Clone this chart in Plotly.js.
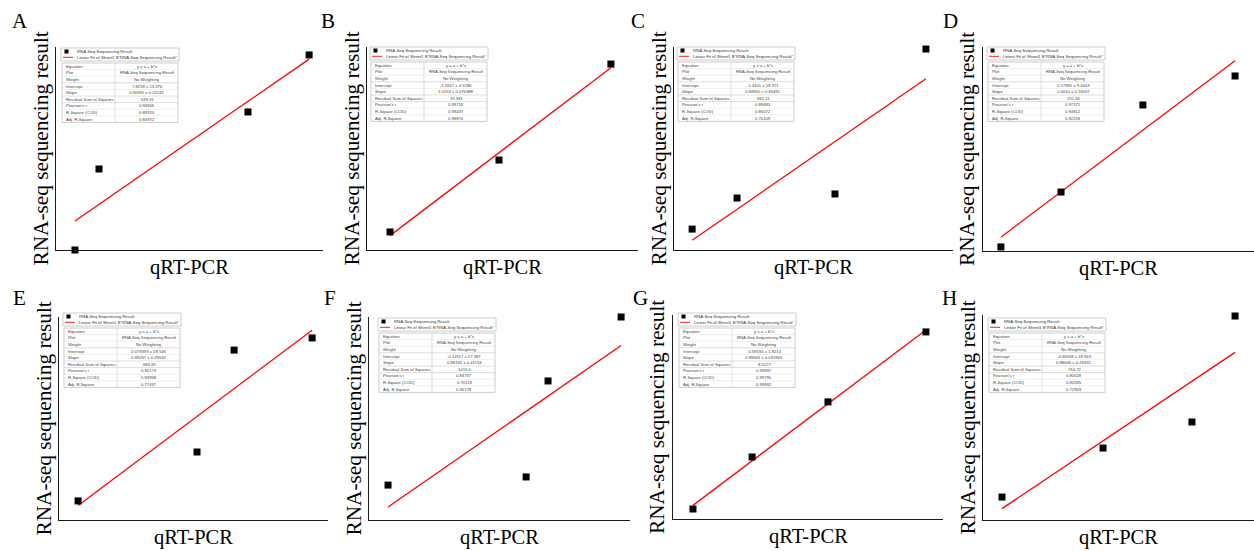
<!DOCTYPE html>
<html>
<head>
<meta charset="utf-8">
<script src="https://cdn.plot.ly/plotly-3.0.1.min.js"></script>
<style>html,body{margin:0;padding:0;background:#fff;}#chart{width:1254px;height:551px;}</style>
</head>
<body>
<div id="chart"></div>
<script>
// ---- data (arbitrary units; axes carry no tick labels) ----
const panelLabels = ['A','B','C','D','E','F','G','H'];
const xTitle = 'qRT-PCR';
const yTitle = 'RNA-seq sequencing result';
const seriesName = 'RNA-Seq Sequencing Result';
const fitName = 'Linear Fit of Sheet1 B"RNA-Seq Sequencing Result"';
const tableRows = ['Equation','Plot','Weight','Intercept','Slope','Residual Sum of Squares',"Pearson's r",'R-Square (COD)','Adj. R-Square'];

const qpcrA = [7.1, 16.1, 71.9, 94.8];   const rnaseqA = [0.0, 39.9, 68.0, 96.1];
const qpcrB = [8.5, 48.7, 90.0];         const rnaseqB = [8.9, 44.3, 91.6];
const qpcrC = [6.5, 22.6, 57.7, 90.3];   const rnaseqC = [10.3, 25.6, 27.6, 99.0];
const qpcrD = [6.6, 28.8, 59.0, 93.0];   const rnaseqD = [2.0, 28.9, 71.6, 85.8];
const qpcrE = [7.1, 51.3, 65.1, 94.1];   const rnaseqE = [9.4, 33.5, 83.7, 89.7];
const qpcrF = [7.3, 60.2, 68.6, 96.6];   const rnaseqF = [17.2, 21.2, 68.5, 100.0];
const qpcrG = [7.4, 29.3, 57.4, 93.7];   const rnaseqG = [4.9, 30.4, 57.4, 91.7];
const qpcrH = [7.0, 44.3, 77.1, 93.0];   const rnaseqH = [11.2, 35.1, 47.8, 99.5];

const qpcr = [qpcrA,qpcrB,qpcrC,qpcrD,qpcrE,qpcrF,qpcrG,qpcrH];
const rnaseq = [rnaseqA,rnaseqB,rnaseqC,rnaseqD,rnaseqE,rnaseqF,rnaseqG,rnaseqH];

// ---- layout geometry (pixels) ----
const W = 1254, H = 551;
const geom = [
  {x0:56,  x1:323,  yt:47,  yb:250, tl:61,  tt:48,  lx:20,  ly:21},
  {x0:367, x1:638,  yt:47,  yb:250, tl:370, tt:47,  lx:328, ly:21},
  {x0:674, x1:953,  yt:47,  yb:250, tl:677, tt:47,  lx:638, ly:21},
  {x0:983, x1:1254, yt:47,  yb:251, tl:987, tt:47,  lx:950, ly:21},
  {x0:59,  x1:328,  yt:317, yb:520, tl:63,  tt:313, lx:19,  ly:298},
  {x0:369, x1:630,  yt:317, yb:520, tl:378, tt:318, lx:330, ly:298},
  {x0:673, x1:943,  yt:315, yb:519, tl:678, tt:313, lx:640, ly:298},
  {x0:983, x1:1254, yt:315, yb:520, tl:988, tt:318, lx:949, ly:298}
];
const px = x => x / W;
const py = y => 1 - y / H;

function linfit(xs, ys) {
  const n = xs.length;
  const mx = xs.reduce((a,b)=>a+b,0)/n, my = ys.reduce((a,b)=>a+b,0)/n;
  let sxx=0, sxy=0, syy=0;
  for (let i=0;i<n;i++){ sxx+=(xs[i]-mx)**2; sxy+=(xs[i]-mx)*(ys[i]-my); syy+=(ys[i]-my)**2; }
  const b = sxy/sxx, a = my - b*mx;
  let rss = 0; for (let i=0;i<n;i++) rss += (ys[i]-a-b*xs[i])**2;
  const r = sxy/Math.sqrt(sxx*syy), r2 = r*r;
  const adj = n>2 ? 1-(1-r2)*(n-1)/(n-2) : NaN;
  const s2 = n>2 ? rss/(n-2) : 0;
  const seb = Math.sqrt(s2/sxx), sea = Math.sqrt(s2*(1/n + mx*mx/sxx));
  return {a,b,rss,r,r2,adj,sea,seb};
}

const traces = [];
const layout = {
  width: W, height: H,
  margin: {l:0, r:0, t:0, b:0},
  paper_bgcolor: '#fff', plot_bgcolor: 'rgba(0,0,0,0)',
  showlegend: false,
  shapes: [], annotations: []
};
const serif = 'Liberation Serif, Times New Roman, serif';
const sans = 'Liberation Sans, Arial, sans-serif';

panelLabels.forEach((lab, i) => {
  const g = geom[i];
  const k = i === 0 ? '' : String(i+1);
  const xs = qpcr[i], ys = rnaseq[i];
  const f = linfit(xs, ys);
  const xmin = Math.min(...xs), xmax = Math.max(...xs);

  traces.push({
    x: [xmin, xmax], y: [f.a + f.b*xmin, f.a + f.b*xmax],
    xaxis: 'x'+k, yaxis: 'y'+k, type: 'scatter', mode: 'lines',
    line: {color: '#ff0000', width: 1.3}, cliponaxis: false, hoverinfo: 'skip'
  });
  traces.push({
    x: xs, y: ys, xaxis: 'x'+k, yaxis: 'y'+k, type: 'scatter', mode: 'markers',
    marker: {symbol: 'square', size: 7, color: '#000'}, cliponaxis: false, name: seriesName
  });

  const axCommon = {showline: true, linecolor: '#1a1a1a', linewidth: 1.3, showticklabels: false,
    ticks: '', showgrid: false, zeroline: false, fixedrange: true};
  layout['xaxis'+k] = Object.assign({}, axCommon, {domain: [px(g.x0), px(g.x1)], range: [0, 100], anchor: 'y'+k});
  layout['yaxis'+k] = Object.assign({}, axCommon, {domain: [py(g.yb), py(g.yt)], range: [0, 100], anchor: 'x'+k});

  // panel letter
  layout.annotations.push({xref:'paper', yref:'paper', x: px(g.lx), y: py(g.ly), text: lab,
    showarrow:false, xanchor:'center', yanchor:'middle', font:{family: serif, size: 21, color:'#000'}});
  // axis titles
  layout.annotations.push({xref:'paper', yref:'paper', x: px(g.x0-16), y: py((g.yt+g.yb)/2), text: yTitle,
    textangle: -90, showarrow:false, xanchor:'center', yanchor:'middle', font:{family: serif, size: 21.3, color:'#000'}});
  layout.annotations.push({xref:'paper', yref:'paper', x: px((g.x0+g.x1)/2), y: py(g.yb+17), text: xTitle,
    showarrow:false, xanchor:'center', yanchor:'middle', font:{family: serif, size: 20.5, color:'#000'}});

  // inset fit table (Origin style)
  const L = g.tl, T = g.tt, TW = 118, LH = 13, RH = 6.6, T2 = T + LH + 2;
  const grey = '#b8b8b8';
  layout.shapes.push({type:'rect', xref:'paper', yref:'paper', x0:px(L), x1:px(L+TW), y0:py(T+LH), y1:py(T),
    line:{color:grey, width:0.7}, fillcolor:'#fff', layer:'below'});
  layout.shapes.push({type:'rect', xref:'paper', yref:'paper', x0:px(L+3.5), x1:px(L+7.5), y0:py(T+5.5), y1:py(T+1.5),
    line:{width:0}, fillcolor:'#000'});
  layout.shapes.push({type:'line', xref:'paper', yref:'paper', x0:px(L+2), x1:px(L+12), y0:py(T+9.3), y1:py(T+9.3),
    line:{color:'#ff0000', width:0.9}});
  layout.annotations.push({xref:'paper', yref:'paper', x:px(L+14), y:py(T+3.6), text: seriesName, showarrow:false,
    xanchor:'left', yanchor:'middle', font:{family: sans, size: 4.3, color:'#333'}});
  layout.annotations.push({xref:'paper', yref:'paper', x:px(L+14), y:py(T+9.3), text: fitName, showarrow:false,
    xanchor:'left', yanchor:'middle', font:{family: sans, size: 4.3, color:'#333'}});

  const tb = T2 + tableRows.length*RH;
  layout.shapes.push({type:'rect', xref:'paper', yref:'paper', x0:px(L+1), x1:px(L+TW-1), y0:py(tb), y1:py(T2),
    line:{color:grey, width:0.7}, fillcolor:'#fff', layer:'below'});
  layout.shapes.push({type:'line', xref:'paper', yref:'paper', x0:px(L+54), x1:px(L+54), y0:py(tb), y1:py(T2),
    line:{color:'#cfcfcf', width:0.6}});
  for (let r=1;r<tableRows.length;r++){
    const yy = T2 + r*RH;
    layout.shapes.push({type:'line', xref:'paper', yref:'paper', x0:px(L+1), x1:px(L+TW-1), y0:py(yy), y1:py(yy),
      line:{color: (r===3||r===5||r===6)?'#bdbdbd':'#dedede', width:0.5}});
  }
  const fmt = v => v.toPrecision(5);
  const vals = ['y = a + b*x', seriesName, 'No Weighting',
    fmt(f.a)+' ± '+fmt(f.sea), fmt(f.b)+' ± '+fmt(f.seb), fmt(f.rss), fmt(f.r), fmt(f.r2),
    isNaN(f.adj) ? '--' : fmt(f.adj)];
  tableRows.forEach((rowName, r) => {
    const yc = T2 + (r+0.5)*RH;
    layout.annotations.push({xref:'paper', yref:'paper', x:px(L+3), y:py(yc), text: rowName, showarrow:false,
      xanchor:'left', yanchor:'middle', font:{family: sans, size: 4.2, color:'#444'}});
    layout.annotations.push({xref:'paper', yref:'paper', x:px(L+86), y:py(yc), text: vals[r], showarrow:false,
      xanchor:'center', yanchor:'middle', font:{family: sans, size: 4.2, color:'#444'}});
  });
});

Plotly.newPlot('chart', traces, layout, {displayModeBar: false, staticPlot: true});
</script>
</body>
</html>
